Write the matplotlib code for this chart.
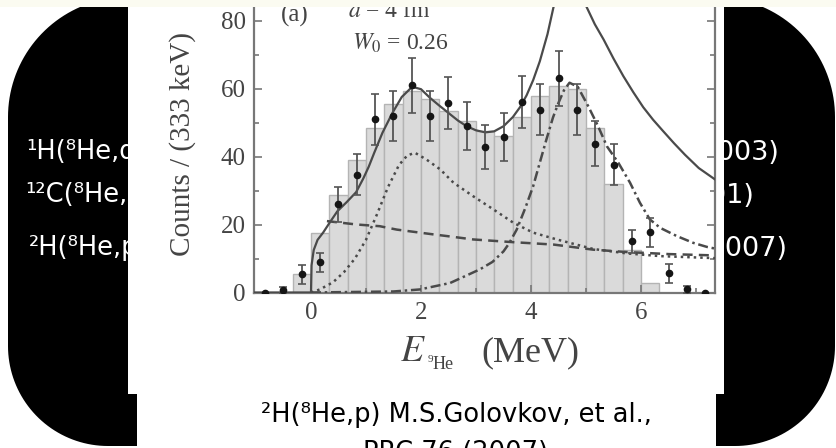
import numpy as np
import matplotlib.pyplot as plt
from matplotlib.patches import Rectangle, Polygon

plt.rcParams['font.family'] = 'Liberation Serif'
plt.rcParams['mathtext.fontset'] = 'stix'

W, H = 837, 448

# 9He missing-mass spectrum, 333 keV bins
bin_left = np.arange(24) / 3 - 1.0
bin_counts = [0, 0, 5.3, 17.5, 28.8, 39.1, 48.4, 55.3, 59.2, 57.0, 53.3, 50.5,
              47.5, 46.0, 51.5, 57.7, 60.7, 60.0, 48.5, 32.0, 12.6, 2.8, 0, 0]

# measured points with statistical errors
e_pts = [-0.5, -0.17, 0.17, 0.5, 0.83, 1.17, 1.5, 1.83, 2.17, 2.5, 2.83, 3.17,
         3.5, 3.83, 4.17, 4.5, 4.83, 5.17, 5.5, 5.83, 6.17, 6.5, 6.83]
n_pts = [0.7, 5.3, 8.9, 25.9, 34.7, 50.9, 51.9, 60.9, 51.9, 55.8, 48.9, 42.8,
         45.8, 56.0, 53.8, 63.0, 53.8, 43.8, 37.6, 15.1, 17.7, 5.6, 0.9]
n_err = [0.8, 2.7, 2.8, 5.2, 5.9, 7.4, 7.4, 8.0, 7.4, 7.7, 7.1, 6.6,
         7.1, 7.7, 7.4, 8.1, 7.5, 6.6, 6.1, 3.4, 4.3, 2.7, 1.0]
e_zero = [-0.83, 7.17]
n_zero = [0, 0]

# total fit
fit_e = [-1.04, 0.0, 0.01, 0.05, 0.12, 0.22, 0.35, 0.48, 0.65, 0.82, 0.95,
         1.05, 1.15, 1.3, 1.48, 1.65, 1.84, 2.0, 2.16, 2.33, 2.5, 2.67, 2.83,
         3.0, 3.17, 3.33, 3.5, 3.67, 3.8, 3.92, 4.04, 4.16, 4.3, 4.41, 4.55,
         4.7, 4.85, 5.01, 5.16, 5.32, 5.5, 5.68, 5.86, 6.04, 6.22, 6.4, 6.6,
         6.8, 7.05, 7.35]
fit_n = [0, 0, 8, 12.5, 15.5, 17.6, 20.8, 23.9, 26.6, 29.5, 33.5,
         37.0, 41.1, 47.0, 52.8, 57.5, 60.5, 59.8, 57.3, 55.0, 52.8, 50.6, 48.9,
         47.7, 47.1, 47.4, 48.9, 51.6, 54.5, 58.0, 62.5, 68.0, 76.0, 84.0, 92.0,
         96.0, 92.0, 84.0, 78.9, 74.4, 68.8, 63.6, 58.9, 54.5, 50.8, 47.5, 43.9,
         40.5, 36.6, 33.2]

# p-wave component
p_e = [0.0, 0.16, 0.4, 0.6, 0.8, 1.0, 1.2, 1.4, 1.6, 1.75, 1.89, 2.1, 2.35,
       2.59, 2.95, 3.32, 3.68, 4.04, 4.47, 5.13, 5.74, 6.35, 7.35]
p_n = [0, 0.9, 3.0, 6.0, 10.0, 15.5, 23.0, 31.0, 37.5, 40.3, 41.1, 39.1, 36.2,
       32.3, 28.3, 24.4, 20.5, 17.6, 15.6, 12.8, 11.5, 10.7, 10.1]

# s-wave component
s_e = [0.29, 0.83, 1.25, 1.56, 2.22, 2.47, 2.95, 3.68, 4.41, 4.65, 5.13, 5.74,
       6.5, 7.35]
s_n = [21.0, 20.0, 19.5, 18.5, 17.1, 16.6, 15.6, 14.8, 14.1, 13.6, 12.6, 11.9,
       11.3, 10.9]

# d-wave component
d_e = [0.0, 1.5, 1.98, 2.53, 3.07, 3.3, 3.5, 3.6, 3.74, 3.9, 4.04, 4.16, 4.28,
       4.4, 4.5, 4.6, 4.7, 4.85, 5.04, 5.22, 5.38, 5.59, 5.8, 5.98, 6.16,
       6.35, 6.65, 6.95, 7.2, 7.35]
d_n = [0, 0.3, 0.9, 2.8, 6.8, 9.0, 12.1, 14.4, 18.5, 25.0, 31.3, 38.2, 45.0,
       51.5, 55.8, 59.5, 61.7, 60.5, 54.8, 48.9, 43.0, 38.1, 32.3, 26.4, 21.5,
       19.0, 16.6, 14.6, 13.4, 12.9]


def fx(px):
    return px / W


def fy(py):
    return 1 - py / H


def rounded_outline(x0, x1, y0, y1, rt, rb, n=40):
    pts = []
    corners = [(x0 + rt, y0 + rt, rt, np.pi, 1.5 * np.pi),
               (x1 - rt, y0 + rt, rt, 1.5 * np.pi, 2 * np.pi),
               (x1 - rb, y1 - rb, rb, 0, 0.5 * np.pi),
               (x0 + rb, y1 - rb, rb, 0.5 * np.pi, np.pi)]
    for cx, cy, r, a0, a1 in corners:
        a = np.linspace(a0, a1, n)
        for xx, yy in zip(cx + r * np.cos(a), cy + r * np.sin(a)):
            pts.append((fx(xx), fy(yy)))
    return pts


fig = plt.figure(figsize=(8.37, 4.48), dpi=100)
fig.patch.set_facecolor('white')

fig.add_artist(Polygon(rounded_outline(8, 835, -3, 446, 120, 100), closed=True,
                       transform=fig.transFigure, facecolor='black',
                       edgecolor='none', zorder=-5))

sans = ['DejaVu Sans']
left_lines = ['¹H(⁸He,d)', '¹²C(⁸He,⁷He)', '²H(⁸He,p)']
right_lines = ['(2003)', '(2001)', '(2007)']
for s, x, y in zip(left_lines, [26, 25, 29], [159, 202, 255]):
    fig.text(fx(x), fy(y), s, color='white', family=sans, fontsize=18.5,
             ha='left', va='baseline', zorder=-4)
for s, x, y in zip(right_lines, [780, 755, 788], [160, 203, 256]):
    fig.text(fx(x), fy(y), s, color='white', family=sans, fontsize=19.5,
             ha='right', va='baseline', zorder=-4)

fig.add_artist(Rectangle((fx(128), fy(394)), (724 - 128) / W, 394 / H,
                         transform=fig.transFigure, facecolor='white',
                         edgecolor='none', zorder=-3))
fig.add_artist(Rectangle((fx(137), 0), (716 - 137) / W, fy(394),
                         transform=fig.transFigure, facecolor='white',
                         edgecolor='none', zorder=-3))

ax = fig.add_axes([fx(254), fy(292.5), (715 - 254) / W, 292.5 / H])
ax.set_facecolor('white')
ax.bar(bin_left, bin_counts, width=1 / 3, align='edge', color='#dadada',
       edgecolor='#b4b4b4', lw=1.0, zorder=1)
line_col = '#4a4a4a'
ax.plot(fit_e, fit_n, '-', color=line_col, lw=1.6, zorder=3)
ax.plot(p_e, p_n, color=line_col, lw=1.8, ls=(0, (1, 1.6)), zorder=3)
ax.plot(s_e, s_n, color=line_col, lw=1.8, ls=(0, (4, 2.5)), zorder=3)
ax.plot(d_e, d_n, color=line_col, lw=1.8, ls=(0, (4, 1.5, 1, 1.5)), zorder=3)
ax.errorbar(e_pts, n_pts, yerr=n_err, fmt='o', ms=4.5, color='#151515',
            ecolor='#555555', elinewidth=1.3, capsize=3, capthick=1.2,
            zorder=5)
ax.plot(e_zero, n_zero, 'o', ms=4.5, color='#151515', zorder=5)

ax.set_xlim(-1.036, 7.345)
ax.set_ylim(0, 292.5 / 3.4)
ax.set_xticks([0, 2, 4, 6])
ax.set_xticks([1, 3, 5, 7], minor=True)
ax.set_yticks([0, 20, 40, 60, 80])
ax.set_yticks([10, 30, 50, 70], minor=True)
ax.tick_params(which='both', direction='in', top=False, right=True,
               labelright=False, colors='#777777', labelcolor='#444444',
               labelsize=18, width=1.2)
ax.tick_params(which='major', length=6)
ax.tick_params(which='minor', length=3.5)
ax.tick_params(axis='x', pad=7)
ax.tick_params(axis='y', pad=6)
for side in ['left', 'right', 'bottom']:
    ax.spines[side].set_color('#777777')
    ax.spines[side].set_linewidth(1.6)
ax.spines['top'].set_visible(False)

txt_col = '#444444'
fig.text(fx(183), fy(144), 'Counts / (333 keV)', rotation=90, fontsize=21,
         color=txt_col, ha='center', va='center')
# x label: E with a small 9He subscript, then the unit
fig.text(fx(400), fy(361), r'$E$', fontsize=27, color=txt_col, ha='left',
         va='baseline')
fig.text(fx(428), fy(362), '9', fontsize=8, color=txt_col, ha='left',
         va='baseline')
fig.text(fx(433), fy(369), 'He', fontsize=13, color=txt_col, ha='left',
         va='baseline')
fig.text(fx(481), fy(361), '(MeV)', fontsize=26, color=txt_col, ha='left',
         va='baseline')
fig.text(fx(295), fy(22), '(a)', fontsize=18, color=txt_col, ha='center',
         va='baseline')
fig.text(fx(348), fy(17), r'$a$ = 4 fm', fontsize=17, color=txt_col,
         ha='left', va='baseline')
fig.text(fx(352), fy(50), r'$W_0$ = 0.26', fontsize=17, color=txt_col,
         ha='left', va='baseline')

fig.text(fx(456), fy(422), '²H(⁸He,p) M.S.Golovkov, et al.,', family=sans,
         fontsize=18.5, color='black', ha='center', va='baseline')
fig.text(fx(456), fy(460), 'PRC 76 (2007)', family=sans, fontsize=18.5,
         color='black', ha='center', va='baseline')

fig.add_artist(Rectangle((0, fy(7)), 1, 7 / H, transform=fig.transFigure,
                         facecolor='#fbfbf1', edgecolor='none', zorder=10))

fig.savefig('out.png', dpi=100)
